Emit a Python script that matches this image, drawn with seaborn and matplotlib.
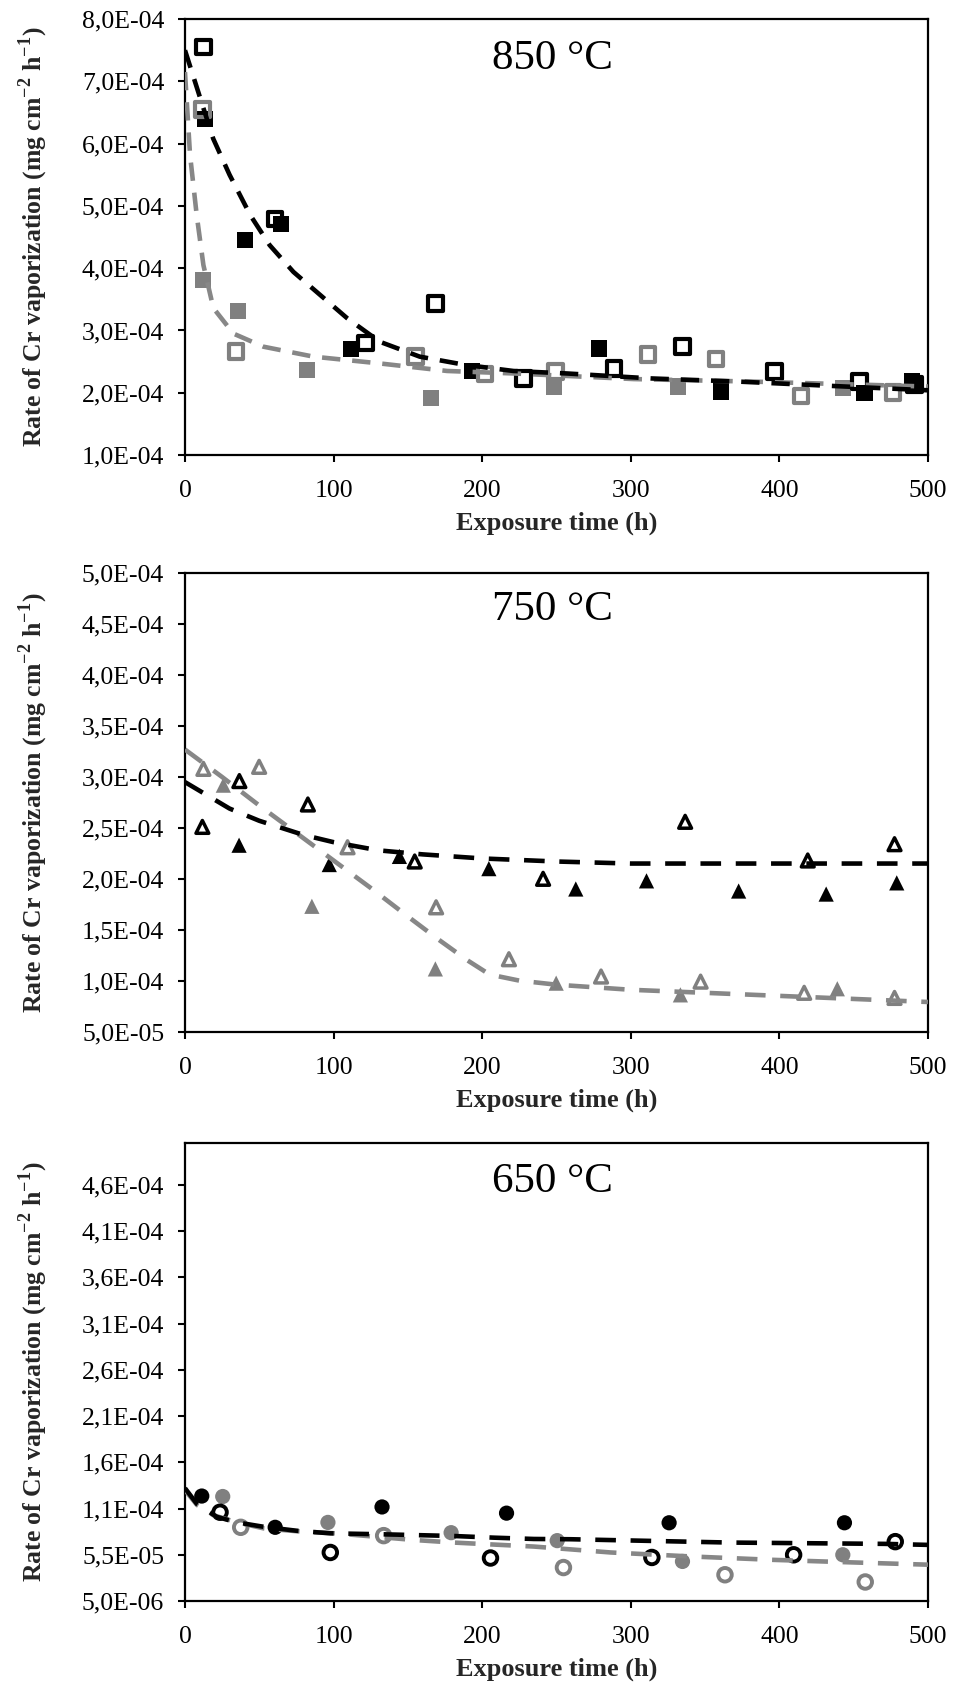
"""
Cr vaporization rate vs exposure time at 850, 750 and 650 C.
Three stacked panels, open/filled markers plus dashed fit curves.
"""

import numpy as np
import pandas as pd
import matplotlib
matplotlib.use("Agg")
import matplotlib.pyplot as plt
import seaborn as sns

BLACK = "#000000"
GRAY = "#808080"
GRAY_LINE = "#878787"

# ---------------- 850 C ----------------
t850_black_open = [12.4, 60.7, 121.3, 168.5, 228, 288.8, 334.8, 396.6, 453.9, 491]
r850_black_open = [7.55, 4.79, 2.80, 3.43, 2.23, 2.39, 2.74, 2.34, 2.18, 2.13]
t850_black_fill = [13.5, 40.4, 64.7, 111.7, 193, 278.6, 360.7, 457.3, 489]
r850_black_fill = [6.40, 4.45, 4.71, 2.70, 2.35, 2.71, 2.02, 1.99, 2.18]
t850_gray_open = [11.9, 34.4, 155, 202, 249.4, 311.7, 357.3, 414.6, 476.4]
r850_gray_open = [6.55, 2.66, 2.58, 2.30, 2.34, 2.61, 2.54, 1.95, 2.00]
t850_gray_fill = [12.4, 35.9, 82, 165.6, 248.3, 331.5, 442.7]
r850_gray_fill = [3.81, 3.31, 2.37, 1.91, 2.10, 2.10, 2.07]

fit850_black_t = [0, 10, 19, 30, 44, 57, 73, 91, 109, 131, 158, 188, 221, 257, 314, 372, 426, 500]
fit850_black_r = [7.50, 6.75, 6.08, 5.50, 4.85, 4.37, 3.94, 3.57, 3.20, 2.82, 2.58, 2.45, 2.35, 2.31, 2.23, 2.18, 2.12, 2.04]
fit850_gray_t = [0, 3.4, 7.9, 12.4, 19.1, 32.6, 52.8, 86.5, 131.5, 176.4, 221.3, 302, 381, 500]
fit850_gray_r = [7.15, 5.82, 4.85, 4.05, 3.36, 2.95, 2.74, 2.58, 2.47, 2.35, 2.31, 2.22, 2.18, 2.10]

# ---------------- 750 C ----------------
t750_black_open = [11.7, 36.6, 82.7, 154.6, 241, 336.6, 419.1, 477.5]
r750_black_open = [2.51, 2.96, 2.73, 2.17, 2.00, 2.56, 2.18, 2.34]
t750_black_fill = [36.4, 97.1, 144.3, 204.5, 263, 310.6, 372.6, 431.5, 479]
r750_black_fill = [2.33, 2.14, 2.22, 2.10, 1.90, 1.98, 1.88, 1.85, 1.96]
t750_gray_open = [12.4, 49.9, 109.4, 169, 218, 280, 347, 416.7, 477.5]
r750_gray_open = [3.08, 3.10, 2.31, 1.72, 1.21, 1.04, 0.99, 0.88, 0.83]
t750_gray_fill = [25.8, 85.4, 168.5, 249.8, 333.4, 439]
r750_gray_fill = [2.92, 1.73, 1.115, 0.975, 0.86, 0.92]

fit750_black_t = [0, 15, 30, 50, 65, 80, 100, 130, 160, 200, 250, 300, 400, 500]
fit750_black_r = [2.95, 2.82, 2.69, 2.57, 2.50, 2.43, 2.36, 2.28, 2.24, 2.20, 2.17, 2.15, 2.15, 2.15]
fit750_gray_t = [0, 25, 50, 75, 100, 125, 150, 170, 190, 205, 225, 250, 300, 350, 400, 450, 500]
fit750_gray_r = [3.27, 3.00, 2.72, 2.45, 2.18, 1.91, 1.63, 1.41, 1.20, 1.06, 1.00, 0.96, 0.91, 0.88, 0.85, 0.82, 0.79]

# ---------------- 650 C ----------------
t650_black_open = [23.6, 97.8, 205.6, 314.2, 409.6, 478]
r650_black_open = [10.1, 5.75, 5.15, 5.21, 5.50, 6.92]
t650_black_fill = [11.3, 60.7, 132.6, 216.4, 325.8, 443.8]
r650_black_fill = [11.85, 8.47, 10.67, 10.0, 8.96, 8.96]
t650_gray_open = [37.5, 133.7, 254.7, 363.4, 457.8]
r650_gray_open = [8.47, 7.57, 4.12, 3.34, 2.56]
t650_gray_fill = [25.4, 96.2, 179.1, 250.5, 334.8, 442.7]
r650_gray_fill = [11.8, 9.0, 7.89, 7.03, 4.78, 5.5]

fit650_black_t = [0, 8, 21.4, 35, 52.8, 75, 97.8, 131.5, 181, 208, 234.8, 259.6, 313.5, 367.4, 419, 470.8, 500]
fit650_black_r = [12.7, 11.0, 9.6, 9.0, 8.53, 8.1, 7.82, 7.72, 7.53, 7.35, 7.21, 7.18, 7.00, 6.82, 6.75, 6.68, 6.57]
fit650_gray_t = [0, 8, 19.1, 35, 52.8, 75, 101.1, 154, 181, 234.8, 286.5, 340.4, 394.4, 448.3, 500]
fit650_gray_r = [12.5, 10.9, 9.78, 9.0, 8.36, 8.05, 7.82, 7.10, 6.82, 6.39, 5.75, 5.32, 4.96, 4.68, 4.43]

# axis ticks / labels
x_ticks = [0, 100, 200, 300, 400, 500]
y850_ticks = [1e-4, 2e-4, 3e-4, 4e-4, 5e-4, 6e-4, 7e-4, 8e-4]
y850_labels = ["1,0E-04", "2,0E-04", "3,0E-04", "4,0E-04", "5,0E-04", "6,0E-04", "7,0E-04", "8,0E-04"]
y750_ticks = [5e-5, 1e-4, 1.5e-4, 2e-4, 2.5e-4, 3e-4, 3.5e-4, 4e-4, 4.5e-4, 5e-4]
y750_labels = ["5,0E-05", "1,0E-04", "1,5E-04", "2,0E-04", "2,5E-04", "3,0E-04",
               "3,5E-04", "4,0E-04", "4,5E-04", "5,0E-04"]
y650_ticks = [5e-6, 5.5e-5, 1.05e-4, 1.55e-4, 2.05e-4, 2.55e-4, 3.05e-4, 3.55e-4, 4.05e-4, 4.55e-4]
y650_labels = ["5,0E-06", "5,5E-05", "1,1E-04", "1,6E-04", "2,1E-04", "2,6E-04",
               "3,1E-04", "3,6E-04", "4,1E-04", "4,6E-04"]

sns.set_theme(style="ticks")
plt.rcParams["font.family"] = ["Liberation Serif", "DejaVu Serif"]
plt.rcParams["mathtext.fontset"] = "custom"
plt.rcParams["mathtext.rm"] = "Liberation Serif"
plt.rcParams["mathtext.bf"] = "Liberation Serif:bold"

fig = plt.figure(figsize=(9.54, 16.91), dpi=100)
ax1 = fig.add_axes([0.1939, 0.7309, 0.7788, 0.2578])
ax2 = fig.add_axes([0.1939, 0.3900, 0.7788, 0.2709])
ax3 = fig.add_axes([0.1939, 0.0532, 0.7788, 0.2708])


def scatter(ax, t, r, scale, marker, color, filled, size, lw=2.8):
    df = pd.DataFrame({"t": t, "r": np.array(r) * scale})
    if filled:
        sns.scatterplot(data=df, x="t", y="r", ax=ax, marker=marker, s=size,
                        color=color, edgecolor="none", linewidth=0, zorder=3)
    else:
        sns.scatterplot(data=df, x="t", y="r", ax=ax, marker=marker, s=size,
                        color="none", edgecolor=color, linewidth=lw, zorder=3)


def fit(ax, t, r, scale, color, dash):
    df = pd.DataFrame({"t": t, "r": np.array(r) * scale})
    sns.lineplot(data=df, x="t", y="r", ax=ax, color=color, linewidth=3.3,
                 linestyle=(0, dash), sort=False, estimator=None, zorder=4)


# 850
scatter(ax1, t850_gray_fill, r850_gray_fill, 1e-4, "s", GRAY, True, 135)
scatter(ax1, t850_black_fill, r850_black_fill, 1e-4, "s", BLACK, True, 135)
scatter(ax1, t850_gray_open, r850_gray_open, 1e-4, "s", GRAY, False, 110, lw=3)
scatter(ax1, t850_black_open, r850_black_open, 1e-4, "s", BLACK, False, 110, lw=3)
fit(ax1, fit850_gray_t, fit850_gray_r, 1e-4, GRAY_LINE, (4, 2.6))
fit(ax1, fit850_black_t, fit850_black_r, 1e-4, BLACK, (4, 2.6))

# 750
scatter(ax2, t750_gray_fill, r750_gray_fill, 1e-4, "^", GRAY, True, 120)
scatter(ax2, t750_black_fill, r750_black_fill, 1e-4, "^", BLACK, True, 120)
scatter(ax2, t750_gray_open, r750_gray_open, 1e-4, "^", GRAY, False, 85, lw=2.5)
scatter(ax2, t750_black_open, r750_black_open, 1e-4, "^", BLACK, False, 85, lw=2.5)
fit(ax2, fit750_gray_t, fit750_gray_r, 1e-4, GRAY_LINE, (4.5, 3.2))
fit(ax2, fit750_black_t, fit750_black_r, 1e-4, BLACK, (4.5, 3.2))

# 650
scatter(ax3, t650_gray_fill, r650_gray_fill, 1e-5, "o", GRAY, True, 120)
scatter(ax3, t650_black_fill, r650_black_fill, 1e-5, "o", BLACK, True, 120)
scatter(ax3, t650_gray_open, r650_gray_open, 1e-5, "o", GRAY, False, 95)
scatter(ax3, t650_black_open, r650_black_open, 1e-5, "o", BLACK, False, 95)
fit(ax3, fit650_gray_t, fit650_gray_r, 1e-5, GRAY_LINE, (4.5, 3.2))
fit(ax3, fit650_black_t, fit650_black_r, 1e-5, BLACK, (4.5, 3.2))

panels = [
    (ax1, "850 °C", (1e-4, 8e-4), y850_ticks, y850_labels, 0.91),
    (ax2, "750 °C", (5e-5, 5e-4), y750_ticks, y750_labels, 0.92),
    (ax3, "650 °C", (5e-6, 5e-4), y650_ticks, y650_labels, 0.915),
]
ylabel = r"Rate of Cr vaporization (mg cm$^{\mathbf{-2}}$ h$^{\mathbf{-1}}$)"
for ax, title, ylim, yt, yl, ty in panels:
    ax.set_xlim(0, 500)
    ax.set_ylim(*ylim)
    ax.set_xticks(x_ticks)
    ax.set_xticklabels([str(v) for v in x_ticks])
    ax.set_yticks(yt)
    ax.set_yticklabels(yl)
    for side in ["top", "right", "left", "bottom"]:
        ax.spines[side].set_visible(True)
        ax.spines[side].set_color("black")
        ax.spines[side].set_linewidth(1.6)
    ax.tick_params(axis="both", direction="out", length=5, width=1.5,
                   labelsize=18.5, colors="black")
    ax.tick_params(axis="y", pad=10)
    ax.tick_params(axis="x", pad=13)
    ax.set_xlabel("Exposure time (h)", fontsize=19, fontweight="bold", labelpad=7)
    ax.set_ylabel(ylabel, fontsize=18.5, fontweight="bold")
    ax.yaxis.set_label_coords(-0.182, 0.5)
    ax.text(0.495, ty, title, transform=ax.transAxes, ha="center", va="center",
            fontsize=31, color="black")
    ax.grid(False)

fig.savefig("out.png", dpi=100)
plt.close(fig)
